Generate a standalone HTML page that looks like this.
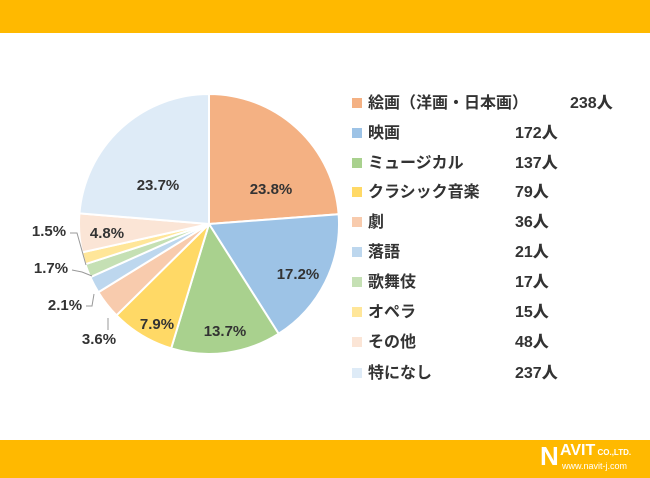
<!DOCTYPE html>
<html><head><meta charset="utf-8"><style>
body{margin:0;width:650px;height:478px;background:#fff;overflow:hidden;font-family:"Liberation Sans","Noto Sans CJK JP",sans-serif;position:relative}
.bar{position:absolute;left:0;width:650px;background:#FFB900}
.lg{position:absolute;left:352px;font-size:16px;color:#333;font-weight:bold;height:20px;line-height:20px}
.lg i{display:inline-block;width:10px;height:10px;margin-right:6px;vertical-align:0px}
.lg b{position:absolute;white-space:nowrap}
</style></head><body>
<div class="bar" style="top:0;height:33px"></div>
<div class="bar" style="top:440px;height:38px"></div>
<div style="position:absolute;left:540px;top:441px;color:#fff;font-weight:bold;font-size:26px;line-height:30px">N</div>
<div style="position:absolute;left:560px;top:443px;color:#fff;font-weight:bold;font-size:16px;line-height:16px">AVIT<span style="font-size:8px"> CO.,LTD.</span></div>
<div style="position:absolute;left:562px;top:461px;color:#fff;font-size:9px;line-height:10px">www.navit-j.com</div>
<svg id="s" width="650" height="478" style="position:absolute;left:0;top:0"></svg>
<div id="L"></div>
<script>
var v=[238,172,137,79,36,21,17,15,48,237],c=["#F4B183","#9DC3E6","#A9D18E","#FFD966","#F8CBAD","#BDD7EE","#C5E0B4","#FFE699","#FBE5D6","#DEEBF7"];
var n=["絵画（洋画・日本画）","映画","ミュージカル","クラシック音楽","劇","落語","歌舞伎","オペラ","その他","特になし"];
var cx=209,cy=224,r=130,a=0,h="";
function p(t,rr){return [cx+rr*Math.sin(t),cy-rr*Math.cos(t)]}
for(var i=0;i<10;i++){var b=a+v[i]/1000*2*Math.PI,s=p(a,r),e=p(b,r);
h+='<path d="M'+cx+','+cy+'L'+s+'A'+r+','+r+' 0 '+(b-a>Math.PI?1:0)+' 1 '+e+'Z" fill="'+c[i]+'" stroke="#fff" stroke-width="2"/>';a=b;}
var t=[["23.8%",271,194],["17.2%",298,279],["13.7%",225,336],["7.9%",157,329],["23.7%",158,190],["4.8%",107,238],["1.5%",49,236],["1.7%",51,273],["2.1%",65,310],["3.6%",99,344]];
t.forEach(function(q){h+='<text x="'+q[1]+'" y="'+q[2]+'" text-anchor="middle" font-size="15" font-weight="bold" fill="#333" font-family="Liberation Sans,sans-serif">'+q[0]+'</text>'});
h+='<polyline points="70,233 77,233 86,265" fill="none" stroke="#999"/><polyline points="72,270 82,272 92,276" fill="none" stroke="#999"/><polyline points="86,306 92,306 94,294" fill="none" stroke="#999"/><polyline points="108,330 108,318" fill="none" stroke="#999"/>';
document.getElementById('s').innerHTML=h;
var y=[94,124,154,183,213,243,273,303,333,364],L="";
for(i=0;i<10;i++){var x=i==0?570:515;
L+='<div class="lg" style="top:'+y[i]+'px"><i style="background:'+c[i]+'"></i>'+n[i]+'<b style="left:'+(x-352)+'px">'+v[i]+'人</b></div>';}
document.getElementById('L').innerHTML=L;
</script>
</body></html>
